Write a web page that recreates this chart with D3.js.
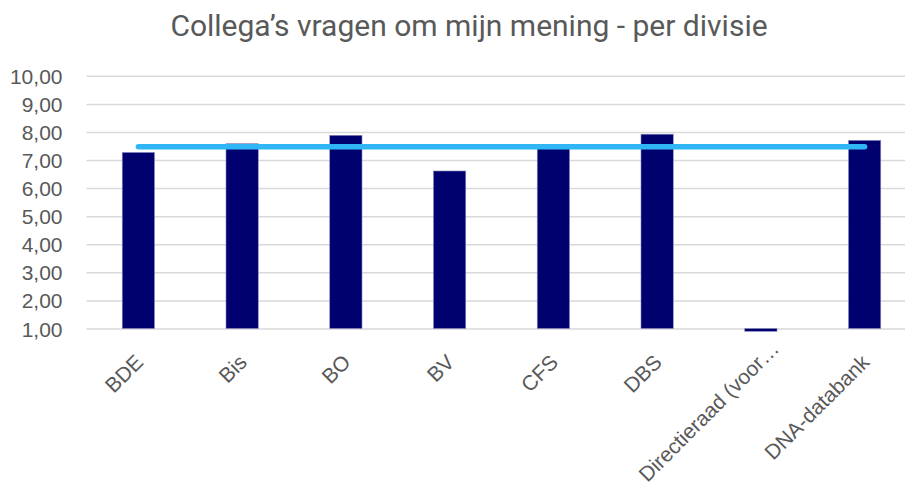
<!DOCTYPE html>
<html>
<head>
<meta charset="utf-8">
<script src="https://cdn.jsdelivr.net/npm/d3@7"></script>
<style>
body { margin: 0; background: #fff; }
svg { display: block; font-family: Roboto, "Noto Sans", sans-serif; }
</style>
</head>
<body>
<div id="chart_place"></div>
<script>
// divisies + scores
var categories = ["BDE", "Bis", "BO", "BV", "CFS", "DBS", "Directieraad (voor\u2026", "DNA-databank"];
var scores = [7.27, 7.58, 7.88, 6.61, 7.45, 7.92, 0.90, 7.70];
var average = [7.47, 7.47, 7.47, 7.47, 7.47, 7.47, 7.47, 7.47];
var yTicks = [1, 2, 3, 4, 5, 6, 7, 8, 9, 10];
var title = "Collega\u2019s vragen om mijn mening - per divisie";

var draw_chart = function(){
  var width = 905, height = 488;
  var plotLeft = 86.5, plotRight = 916.5, plotTop = 75.8, plotBottom = 328.5;

  var svg = d3.select("#chart_place").append("svg")
      .attr("width", width)
      .attr("height", height);

  var nl = d3.formatLocale({decimal: ",", thousands: ".", grouping: [3], currency: ["\u20ac", ""]});
  var fmt = nl.format(".2f");

  var x = d3.scaleBand()
      .domain(categories)
      .range([plotLeft, plotRight])
      .paddingInner(0.689)
      .paddingOuter(0.3445);

  var y = d3.scaleLinear()
      .domain([1, 10])
      .range([plotBottom, plotTop]);

  // gridlines
  var grid = svg.append("g")
      .attr("transform", "translate(" + plotLeft + ",0)")
      .call(d3.axisLeft(y).tickValues(yTicks).tickSize(-(plotRight - plotLeft)).tickFormat(""));
  grid.select(".domain").remove();
  grid.selectAll("line").attr("stroke", "#d9d9d9").attr("stroke-width", 1.5);

  // y labels
  var yAxis = svg.append("g")
      .attr("transform", "translate(62.5,0)")
      .call(d3.axisLeft(y).tickValues(yTicks).tickSize(0).tickPadding(0).tickFormat(fmt));
  yAxis.select(".domain").remove();
  yAxis.selectAll("text")
      .attr("fill", "#595959")
      .style("font-size", "21px")
      .attr("dy", "0.36em");

  // bars
  svg.append("g").selectAll("rect")
      .data(categories)
      .enter().append("rect")
      .attr("x", function(d){ return x(d); })
      .attr("width", x.bandwidth())
      .attr("y", function(d, i){ return Math.min(y(scores[i]), y(1)); })
      .attr("height", function(d, i){ return Math.abs(y(1) - y(scores[i])); })
      .attr("fill", "#00006e")
      .attr("stroke", "#8a8ac0")
      .attr("stroke-width", 0.6);

  // average line
  var line = d3.line()
      .x(function(d, i){ return x(categories[i]) + x.bandwidth() / 2; })
      .y(function(d){ return y(d); });

  svg.append("path")
      .datum(average)
      .attr("d", line)
      .attr("fill", "none")
      .attr("stroke", "#30b6f5")
      .attr("stroke-width", 5.5)
      .attr("stroke-linecap", "round");

  // x labels
  var xAxis = svg.append("g")
      .attr("transform", "translate(0," + plotBottom + ")")
      .call(d3.axisBottom(x).tickSize(0));
  xAxis.select(".domain").remove();
  xAxis.selectAll("text")
      .attr("x", 0).attr("y", 0).attr("dy", 0)
      // truncated label sits further up, like in excel
      .attr("dx", function(d){ return d.slice(-1) === "\u2026" ? 19 : 0; })
      .attr("text-anchor", "end")
      .attr("transform", "translate(6,35) rotate(-45)")
      .attr("fill", "#595959")
      .style("font-size", "21px");

  // title
  svg.append("text")
      .attr("x", 469)
      .attr("y", 36)
      .attr("text-anchor", "middle")
      .attr("fill", "#595959")
      .style("font-size", "30px")
      .text(title);
}

draw_chart();
</script>
</body>
</html>
